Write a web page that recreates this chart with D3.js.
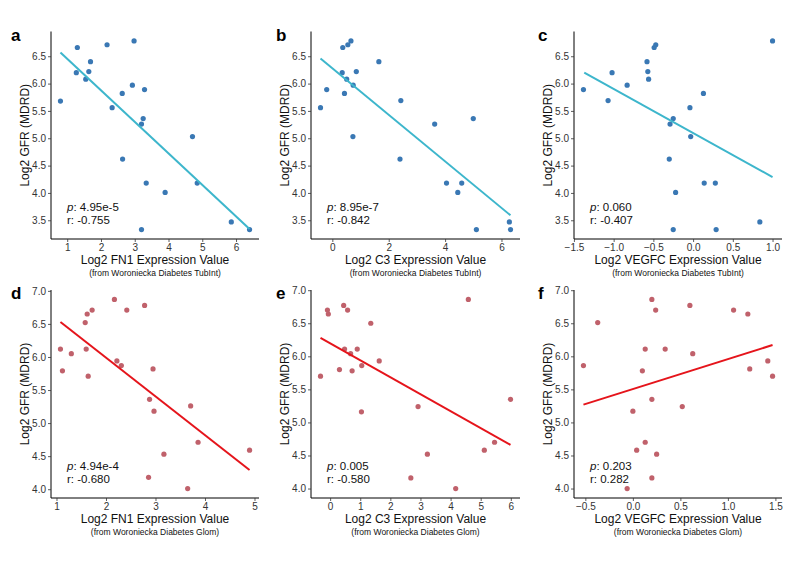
<!DOCTYPE html>
<html><head><meta charset="utf-8">
<script src="https://cdn.jsdelivr.net/npm/d3@7"></script>
<style>html,body{margin:0;padding:0;background:#fff;}svg{display:block;font-family:"Liberation Sans",Arial,sans-serif;}</style>
</head><body>
<script>
// ---- Data ----
const aX = [0.80,1.30,1.27,1.55,1.64,1.69,2.18,2.98,2.93,2.63,3.29,2.33,3.25,3.20,4.71,2.64,3.34,3.90,4.85,5.86,6.40,3.20];
const aY = [5.68,6.66,6.20,6.08,6.22,6.40,6.71,6.78,5.97,5.82,5.89,5.56,5.36,5.26,5.03,4.62,4.18,4.01,4.18,3.47,3.33,3.33];
const bX = [-0.42,-0.20,0.37,0.55,0.66,0.35,0.51,0.43,0.74,0.85,1.65,0.73,2.43,2.40,3.63,5.00,4.05,4.59,4.45,5.11,6.28,6.32];
const bY = [5.56,5.89,6.66,6.71,6.78,6.20,6.08,5.82,5.97,6.22,6.40,5.03,5.69,4.62,5.26,5.36,4.18,4.18,4.01,3.33,3.47,3.33];
const cX = [-1.38,-1.02,-1.07,-0.83,-0.58,-0.57,-0.56,-0.49,-0.47,1.00,0.13,-0.04,-0.25,-0.29,-0.03,-0.30,-0.22,0.14,0.28,-0.25,0.29,0.84];
const cY = [5.89,6.20,5.69,5.97,6.40,6.22,6.08,6.66,6.71,6.78,5.82,5.56,5.36,5.26,5.03,4.62,4.01,4.18,4.18,3.33,3.33,3.47];
const dX = [1.08,1.12,1.30,1.58,1.60,1.62,1.72,1.64,2.17,2.22,2.31,2.42,2.78,2.95,2.88,2.97,3.71,3.86,3.17,4.90,2.86,3.65];
const dY = [6.12,5.79,6.05,6.52,6.12,6.65,6.71,5.71,6.87,5.94,5.87,6.71,6.78,5.82,5.36,5.18,5.26,4.71,4.53,4.59,4.18,4.01];
const eX = [-0.32,-0.09,-0.06,0.45,0.58,0.48,0.68,0.90,0.31,0.73,1.05,1.35,1.63,1.04,2.92,4.59,5.99,5.46,5.12,3.23,2.68,4.17];
const eY = [5.70,6.70,6.64,6.77,6.70,6.11,6.04,6.11,5.80,5.78,5.86,6.50,5.93,5.16,5.24,6.86,5.35,4.70,4.58,4.52,4.16,4.00];
const fX = [-0.52,-0.37,0.20,0.24,0.60,1.06,1.21,0.13,0.34,0.63,1.42,1.23,1.47,0.10,0.20,0.52,0.00,0.13,0.04,0.25,0.20,-0.06];
const fY = [5.86,6.51,6.86,6.70,6.77,6.70,6.64,6.11,6.11,6.04,5.93,5.81,5.70,5.78,5.35,5.24,5.17,4.70,4.58,4.52,4.16,4.00];

// fitted regression line end points [x, y]
const aFit = [[0.80,6.57],[6.40,3.34]];
const bFit = [[-0.42,6.46],[6.32,3.59]];
const cFit = [[-1.37,6.20],[1.00,4.29]];
const dFit = [[1.08,6.53],[4.90,4.29]];
const eFit = [[-0.32,6.28],[5.99,4.66]];
const fFit = [[-0.52,5.27],[1.47,6.17]];

const letters = ["a","b","c","d","e","f"];
const genes = ["FN1","C3","VEGFC","FN1","C3","VEGFC"];
const sources = ["Woroniecka Diabetes TubInt","Woroniecka Diabetes TubInt","Woroniecka Diabetes TubInt",
                 "Woroniecka Diabetes Glom","Woroniecka Diabetes Glom","Woroniecka Diabetes Glom"];
const pValues = ["4.95e-5","8.95e-7","0.060","4.94e-4","0.005","0.203"];
const rValues = ["-0.755","-0.842","-0.407","-0.680","-0.580","0.282"];

const xTicks = [[1,2,3,4,5,6],[0,2,4,6],[-1.5,-1.0,-0.5,0.0,0.5,1.0],[1,2,3,4,5],[0,1,2,3,4,5,6],[-0.5,0.0,0.5,1.0,1.5]];
const yTicksTop = [3.5,4.0,4.5,5.0,5.5,6.0,6.5];
const yTicksBottom = [4.0,4.5,5.0,5.5,6.0,6.5,7.0];

const panels = [
  {x:aX,y:aY,fit:aFit},{x:bX,y:bY,fit:bFit},{x:cX,y:cY,fit:cFit},
  {x:dX,y:dY,fit:dFit},{x:eX,y:eY,fit:eFit},{x:fX,y:fY,fit:fFit}
];

// ---- Layout ----
const W = 800, H = 566;
const colL = [51, 311, 574], colR = [259, 520, 782];
const rowT = [31.5, 290], rowB = [239, 498];
const pointCol = ["#3a78b4", "#c0616b"];
const lineCol = ["#3db6cc", "#e5141b"];

const svg = d3.select("body").append("svg").attr("width", W).attr("height", H);

function expand(vals){
  const [mn, mx] = d3.extent(vals);
  const pad = (mx - mn) * 0.05;
  return [mn - pad, mx + pad];
}

panels.forEach((p, i) => {
  const row = Math.floor(i / 3), col = i % 3;
  const L = colL[col], R = colR[col], T = rowT[row], B = rowB[row];
  const xs = d3.scaleLinear().domain(expand(p.x)).range([L, R]);
  const ys = d3.scaleLinear().domain(expand(p.y)).range([B, T]);
  const g = svg.append("g");

  // axes
  const fmtX = (xTicks[i].some(v => !Number.isInteger(v))) ? d3.format(".1f") : d3.format("d");
  const xAxis = d3.axisBottom(xs).tickValues(xTicks[i]).tickSize(3).tickPadding(2).tickSizeOuter(0).tickFormat(fmtX);
  const yAxis = d3.axisLeft(ys).tickValues(row === 0 ? yTicksTop : yTicksBottom).tickSize(3).tickPadding(2).tickSizeOuter(0).tickFormat(d3.format(".1f"));
  const gx = g.append("g").attr("transform", `translate(0,${B})`).call(xAxis);
  const gy = g.append("g").attr("transform", `translate(${L},0)`).call(yAxis);
  gx.select(".domain").attr("d", `M${L},0H${R}`);
  gy.select(".domain").attr("d", `M0,${B}V${T}`);
  [gx, gy].forEach(a => {
    a.select(".domain").attr("stroke", "#000").attr("stroke-width", 1);
    a.selectAll(".tick line").attr("stroke", "#333").attr("stroke-width", 0.8);
    a.selectAll(".tick text").attr("fill", "#333").style("font-size", "10px").style("font-family", "Liberation Sans, Arial, sans-serif");
  });

  // points
  g.append("g").selectAll("circle").data(p.x.map((v, k) => [v, p.y[k]])).join("circle")
    .attr("cx", d => xs(d[0])).attr("cy", d => ys(d[1])).attr("r", 2.6)
    .attr("fill", pointCol[row]);

  // regression line
  g.append("path").attr("d", d3.line().x(d => xs(d[0])).y(d => ys(d[1]))(p.fit))
    .attr("stroke", lineCol[row]).attr("stroke-width", 2).attr("fill", "none");

  // letters
  g.append("text").attr("x", col === 0 ? 11 : (col === 1 ? 276 : 538)).attr("y", T + 9)
    .style("font-size", "17px").style("font-weight", "bold").attr("fill", "#000").text(letters[i]);

  // y title
  g.append("text").attr("transform", `translate(${L - 22.5},${(T + B) / 2}) rotate(-90)`)
    .attr("text-anchor", "middle").style("font-size", "12px").attr("fill", "#111").text("Log2 GFR (MDRD)");

  // x title and source
  const cx = (L + R) / 2;
  g.append("text").attr("x", cx).attr("y", B + 24.5).attr("text-anchor", "middle")
    .style("font-size", "12px").attr("fill", "#111").text(`Log2 ${genes[i]} Expression Value`);
  g.append("text").attr("x", cx).attr("y", B + 37).attr("text-anchor", "middle")
    .style("font-size", "8.5px").attr("fill", "#111").text(`(from ${sources[i]})`);

  // stats annotation
  const ax = L + 16;
  const t1 = g.append("text").attr("x", ax).attr("y", B - 28).style("font-size", "11.5px").attr("fill", "#111");
  t1.append("tspan").style("font-style", "italic").text("p");
  t1.append("tspan").text(": " + pValues[i]);
  g.append("text").attr("x", ax).attr("y", B - 15.3).style("font-size", "11.5px").attr("fill", "#111").text("r: " + rValues[i]);
});
</script>
</body></html>
